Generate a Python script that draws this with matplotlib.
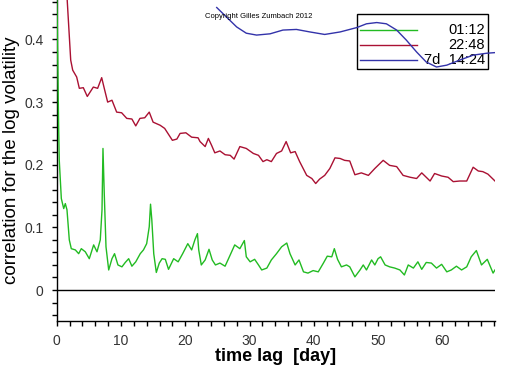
import matplotlib
matplotlib.use("Agg")
import matplotlib.pyplot as plt
from matplotlib.ticker import MultipleLocator
from matplotlib.patches import Rectangle
from matplotlib.lines import Line2D

# ---- data ----
green_x = [0.0, 0.1, 0.25, 0.31, 0.4, 0.72, 1.09, 1.34, 1.6, 1.96, 2.27, 2.9, 3.42, 3.83, 4.45, 5.07,
           5.75, 6.27, 6.78, 7.05, 7.2, 7.4, 7.67, 8.09, 8.6, 9.0, 9.53, 10.15, 10.67, 11.2, 11.7,
           12.3, 13.0, 13.5, 14.0, 14.4, 14.6, 14.8, 15.1, 15.5, 15.96, 16.4, 16.9, 17.4, 18.2,
           18.9, 19.6, 20.4, 21.0, 21.5, 21.9, 22.1, 22.5, 23.1, 23.7, 24.2, 24.7, 25.4, 26.2,
           27.0, 27.7, 28.5, 29.2, 29.5, 30.1, 30.8, 31.4, 31.9, 32.7, 33.4, 34.2, 35.0, 35.8,
           36.3, 37.1, 37.7, 38.4, 39.1, 39.9, 40.7, 41.5, 42.1, 42.8, 43.2, 43.7, 44.3, 45.1,
           45.6, 46.4, 47.2, 47.7, 48.2, 49.0, 49.5, 50.0, 50.4, 51.1, 51.8, 52.6, 53.4, 54.1,
           54.7, 55.5, 56.2, 56.8, 57.5, 58.3, 59.1, 59.9, 60.7, 61.4, 62.2, 63.0, 63.8, 64.5,
           65.3, 66.1, 67.0, 67.9, 68.2]
green_y = [0.50, 0.42, 0.30, 0.255, 0.207, 0.146, 0.130, 0.138, 0.128, 0.080, 0.066, 0.064, 0.058,
           0.066, 0.061, 0.050, 0.072, 0.061, 0.080, 0.128, 0.226, 0.154, 0.069, 0.032, 0.050,
           0.058, 0.040, 0.037, 0.044, 0.050, 0.038, 0.045, 0.058, 0.064, 0.074, 0.101, 0.137,
           0.112, 0.058, 0.028, 0.043, 0.050, 0.049, 0.033, 0.050, 0.045, 0.058, 0.074, 0.064,
           0.080, 0.090, 0.064, 0.040, 0.048, 0.065, 0.048, 0.040, 0.043, 0.038, 0.056, 0.072,
           0.066, 0.079, 0.053, 0.045, 0.049, 0.040, 0.032, 0.035, 0.048, 0.058, 0.069, 0.075,
           0.058, 0.040, 0.048, 0.029, 0.027, 0.031, 0.029, 0.043, 0.054, 0.053, 0.066, 0.049,
           0.037, 0.040, 0.037, 0.021, 0.032, 0.040, 0.032, 0.048, 0.040, 0.050, 0.053, 0.040,
           0.037, 0.035, 0.032, 0.024, 0.040, 0.035, 0.045, 0.033, 0.044, 0.043, 0.035, 0.041,
           0.029, 0.032, 0.038, 0.032, 0.037, 0.053, 0.063, 0.040, 0.049, 0.027, 0.032]

red_x = [1.5, 1.65, 2.18, 2.49, 3.11, 3.52, 4.14, 4.76, 5.70, 6.37, 7.0, 7.4, 7.93, 8.6, 9.33,
         10.1, 10.9, 11.7, 12.3, 12.95, 13.7, 14.4, 15.0, 16.1, 16.8, 18.0, 18.7, 19.2, 20.1,
         21.0, 22.0, 22.3, 23.1, 23.6, 24.1, 24.6, 25.4, 26.2, 27.0, 27.6, 28.5, 29.5, 30.6,
         31.4, 32.1, 32.7, 33.4, 34.2, 35.0, 35.7, 36.4, 37.1, 37.8, 38.9, 39.7, 40.3, 40.9,
         41.7, 42.5, 43.3, 44.1, 44.8, 45.6, 46.4, 47.4, 48.5, 49.5, 50.8, 51.8, 52.9, 53.9,
         55.0, 56.0, 56.8, 58.1, 58.8, 59.9, 60.9, 61.7, 62.7, 63.8, 64.8, 65.6, 66.3, 67.1, 68.2]
red_y = [0.49, 0.46, 0.367, 0.351, 0.340, 0.322, 0.323, 0.309, 0.324, 0.322, 0.339, 0.322, 0.300,
         0.303, 0.284, 0.283, 0.274, 0.273, 0.262, 0.274, 0.275, 0.284, 0.268, 0.263, 0.258,
         0.239, 0.241, 0.250, 0.251, 0.244, 0.243, 0.237, 0.229, 0.242, 0.231, 0.219, 0.222,
         0.216, 0.215, 0.209, 0.229, 0.226, 0.218, 0.215, 0.205, 0.208, 0.205, 0.218, 0.222,
         0.237, 0.219, 0.221, 0.205, 0.183, 0.178, 0.170, 0.177, 0.183, 0.194, 0.211, 0.210,
         0.207, 0.206, 0.184, 0.187, 0.183, 0.194, 0.207, 0.199, 0.197, 0.183, 0.180, 0.178,
         0.187, 0.174, 0.186, 0.182, 0.180, 0.173, 0.174, 0.174, 0.196, 0.190, 0.189, 0.185,
         0.174]

blue_x = [24.9, 26.4, 28.0, 29.5, 31.1, 33.2, 35.2, 37.3, 39.4, 41.7, 44.1, 46.7, 48.2, 49.8,
          51.3, 52.9, 54.4, 56.0, 57.5, 59.1, 60.7, 62.7, 64.8, 66.9, 68.2]
blue_y = [0.451, 0.436, 0.420, 0.410, 0.407, 0.409, 0.415, 0.416, 0.412, 0.408, 0.412, 0.419,
          0.425, 0.427, 0.425, 0.415, 0.399, 0.380, 0.364, 0.356, 0.359, 0.367, 0.375, 0.378,
          0.379]

series_labels = ["01:12", "22:48", "7d  14:24"]
x_ticks = [0, 10, 20, 30, 40, 50, 60]
y_ticks = [0, 0.1, 0.2, 0.3, 0.4]
y_tick_labels = ["0", "0.1", "0.2", "0.3", "0.4"]

plt.rcParams['font.family'] = ['Liberation Sans', 'DejaVu Sans']

W, H = 512, 366
fig = plt.figure(figsize=(W / 100, H / 100), dpi=100)
ax = fig.add_axes([56.7 / W, 1 - 320.7 / H, (495 - 56.7) / W, 320.7 / H])

GREEN = "#22bb22"
RED = "#aa1133"
BLUE = "#3333aa"
colors = [GREEN, RED, BLUE]

ax.axhline(0, color="black", lw=1.0, zorder=1)
ax.plot(green_x, green_y, color=GREEN, lw=1.0, zorder=3)
ax.plot(red_x, red_y, color=RED, lw=1.0, zorder=3)
ax.plot(blue_x, blue_y, color=BLUE, lw=1.0, zorder=5)

ax.set_xlim(0, 68.2)
ax.set_ylim(-0.049, 0.463)

for s in ["top", "right"]:
    ax.spines[s].set_visible(False)
for s in ["left", "bottom"]:
    ax.spines[s].set_linewidth(1.0)

ax.set_xticks(x_ticks)
ax.set_yticks(y_ticks)
ax.set_yticklabels(y_tick_labels)
ax.xaxis.set_minor_locator(MultipleLocator(2))
ax.yaxis.set_minor_locator(MultipleLocator(0.02))
ax.tick_params(which="both", direction="out", length=3.5, width=1.0, color="black",
               labelsize=10, labelcolor="#333333")
ax.tick_params(axis="x", pad=6)
ax.tick_params(axis="y", pad=6)

ax.set_xlabel("time lag  [day]", fontsize=13, fontweight="bold", labelpad=0)
ax.set_ylabel("correlation for the log volatility", fontsize=13.5, labelpad=3)

# ---- legend drawn in figure pixel coordinates ----
def fx(px):
    return px / W

def fy(py):
    return 1 - py / H

frame = Rectangle((fx(356.7), fy(69.3)), fx(487.7) - fx(356.7), fy(14) - fy(69.3),
                  transform=fig.transFigure, facecolor="white", edgecolor="black",
                  lw=1.0, zorder=4)
frame.set_clip_on(False)
ax.add_artist(frame)
rows_y = [30, 45, 60.3]
for c, lab, ry in zip(colors, series_labels, rows_y):
    ln = Line2D([fx(360), fx(416.7)], [fy(ry), fy(ry)], transform=fig.transFigure,
                color=c, lw=1.0, zorder=4.5)
    ln.set_clip_on(False)
    ax.add_artist(ln)
    ax.text(fx(485), fy(ry), lab, transform=fig.transFigure, ha="right", va="center",
            fontsize=10.5, color="black", zorder=4.6)

fig.text(fx(205), fy(16), "Copyright Gilles Zumbach 2012", fontsize=5.5,
         ha="left", va="center", color="black")

fig.savefig("out.png", dpi=100)
